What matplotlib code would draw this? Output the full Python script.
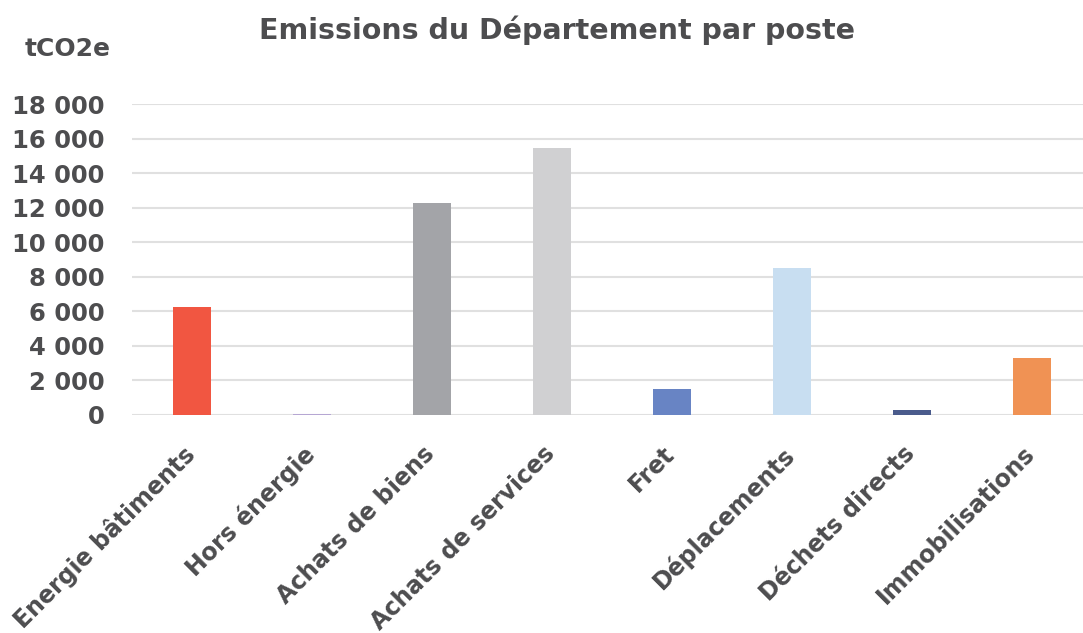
import numpy as np
import matplotlib.pyplot as plt
from matplotlib.ticker import FuncFormatter

# Données
postes = ['Energie bâtiments', 'Hors énergie', 'Achats de biens', 'Achats de services',
          'Fret', 'Déplacements', 'Déchets directs', 'Immobilisations']
emissions = [6250, 60, 12280, 15460, 1510, 8520, 290, 3320]
couleurs = ['#F15641', '#B6A7D3', '#A3A4A8', '#D0D0D2',
            '#6884C4', '#C8DEF1', '#4A5B8C', '#F09254']
graduations = np.arange(0, 18001, 2000)

gris = '#4D4D4F'
plt.rcParams['font.family'] = 'DejaVu Sans'
plt.rcParams['font.weight'] = 'bold'

fig = plt.figure(figsize=(10.83, 6.33), dpi=100)
ax = fig.add_axes([132/1083, 218/633, (1083-132)/1083, 311/633])

x = np.arange(len(postes))
ax.bar(x, emissions, width=0.32, color=couleurs, zorder=3)

ax.set_xlim(-0.5, 7.425)
ax.set_ylim(0, 18000)
ax.set_yticks(graduations)
ax.yaxis.set_major_formatter(FuncFormatter(lambda v, p: f'{int(v):,}'.replace(',', ' ')))
ax.grid(axis='y', color='#E0E0E0', linewidth=1.5, zorder=0)

# étiquettes de catégories inclinées à 45°
ax.set_xticks(x)
ax.set_xticklabels([])
for xi, nom in zip(x, postes):
    ax.annotate(nom, xy=(xi, 0), xycoords=('data', 'axes fraction'),
                xytext=(-7, -19), textcoords='offset points',
                rotation=45, rotation_mode='anchor', ha='right', va='top',
                fontsize=17, color=gris, fontweight='bold', annotation_clip=False)

for lab in ax.get_yticklabels():
    lab.set_fontsize(17.5)
    lab.set_color(gris)
    lab.set_fontweight('bold')

ax.tick_params(axis='y', length=0, pad=20)
ax.tick_params(axis='x', length=0)
for s in ax.spines.values():
    s.set_visible(False)

fig.text(557/1083, 1 - 30/633, 'Emissions du Département par poste',
         ha='center', va='center', fontsize=20.5, color=gris, fontweight='bold')
fig.text(25/1083, 1 - 49/633, 'tCO2e', ha='left', va='center',
         fontsize=18, color=gris, fontweight='bold')

fig.savefig('out.png', dpi=100)
